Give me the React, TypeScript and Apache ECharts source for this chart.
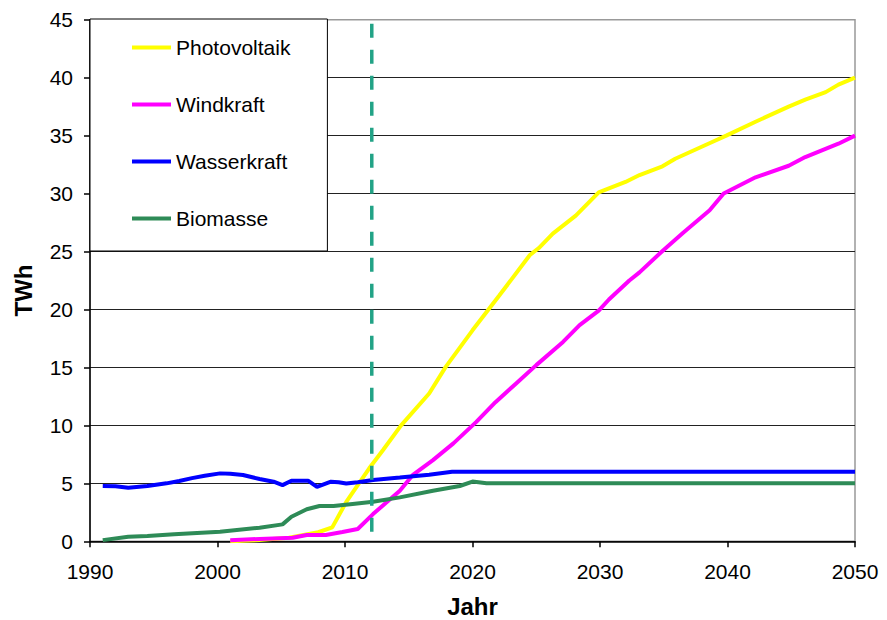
import React, { useEffect, useRef } from "react";
import * as echarts from "echarts";

const seriesNames = ["Photovoltaik", "Windkraft", "Wasserkraft", "Biomasse"];
const seriesColors = ["#ffff00", "#ff00ff", "#0000ff", "#2e8b57"];

const pvYears = [2001, 2003, 2005.6, 2007.9, 2009, 2010.1, 2011.9, 2013, 2014.4, 2016.6, 2017.9, 2020, 2022.1, 2024.5, 2025.2, 2026.3, 2028.1, 2029.9, 2032, 2033.1, 2034.9, 2035.9, 2038.8, 2039.9, 2042.2, 2044.8, 2046.1, 2047.7, 2048.7, 2050];
const pvValues = [0.0, 0.1, 0.3, 0.78, 1.2, 3.4, 6.3, 7.9, 10.0, 12.75, 15.05, 18.2, 21.2, 24.7, 25.3, 26.55, 28.1, 30.1, 31.0, 31.6, 32.35, 33.0, 34.45, 35.0, 36.2, 37.5, 38.1, 38.75, 39.4, 40.0];

const windYears = [2001, 2003.3, 2005.9, 2007, 2008.5, 2009.8, 2011, 2012.2, 2014.3, 2015.3, 2016.9, 2018.5, 2020.3, 2021.8, 2023.4, 2025, 2027.1, 2028.4, 2029.9, 2030.7, 2032.3, 2033.1, 2034.9, 2036.5, 2038.6, 2039.7, 2042.2, 2044.8, 2046.1, 2048.7, 2050];
const windValues = [0.1, 0.2, 0.3, 0.55, 0.55, 0.8, 1.06, 2.35, 4.36, 5.7, 7.0, 8.45, 10.3, 12.0, 13.6, 15.2, 17.2, 18.65, 19.9, 20.86, 22.5, 23.2, 25.05, 26.6, 28.56, 30.0, 31.4, 32.4, 33.15, 34.3, 35.0];

const hydroYears = [1991, 1992, 1993, 1994.5, 1996, 1997, 1998, 1999, 2000.2, 2001, 2002, 2003.3, 2004.4, 2005.1, 2005.8, 2007.1, 2007.8, 2008.9, 2009.5, 2010.1, 2011, 2012.2, 2014.3, 2016.6, 2018.4, 2030, 2040, 2050];
const hydroValues = [4.77, 4.75, 4.62, 4.77, 5.0, 5.2, 5.45, 5.65, 5.86, 5.82, 5.72, 5.37, 5.14, 4.85, 5.23, 5.23, 4.7, 5.14, 5.1, 4.98, 5.1, 5.28, 5.5, 5.75, 6.0, 6.0, 6.0, 6.0];

const bioYears = [1991, 1993, 1994.5, 1996.6, 2000.2, 2003.3, 2005.1, 2005.8, 2007, 2008, 2009.1, 2010.6, 2012.2, 2014.3, 2016.9, 2019, 2020, 2021.1, 2030, 2040, 2050];
const bioValues = [0.1, 0.4, 0.45, 0.6, 0.83, 1.17, 1.46, 2.12, 2.76, 3.04, 3.04, 3.22, 3.41, 3.79, 4.36, 4.77, 5.15, 5.0, 5.0, 5.0, 5.0];

const markerYear = 2012.1;
const markerRange = [45, 0];

const xTicks = { min: 1990, max: 2050, interval: 10 };
const yTicks = { min: 0, max: 45, interval: 5 };

const pairs = (xs: number[], ys: number[]) => xs.map((x, i) => [x, ys[i]]);

export default function App() {
  const ref = useRef<HTMLDivElement>(null);
  useEffect(() => {
    if (!ref.current) return;
    const chart = echarts.init(ref.current, null, { renderer: "svg" });
    const font = "'Liberation Sans', Arial, sans-serif";
    const dataSets = [
      pairs(pvYears, pvValues),
      pairs(windYears, windValues),
      pairs(hydroYears, hydroValues),
      pairs(bioYears, bioValues),
    ];
    const splitColors = ["#222", "#222", "#222", "#222", "#222", "#222", "#222", "#222", "#222", "#999"];
    chart.setOption({
      animation: false,
      backgroundColor: "#fff",
      grid: {
        left: 90,
        right: 32,
        top: 19.7,
        bottom: 78.7,
        show: true,
        borderColor: "#999",
        borderWidth: 1.5,
        backgroundColor: "transparent",
        outerBoundsMode: "none",
        containLabel: false,
      },
      legend: {
        data: seriesNames,
        orient: "vertical",
        left: 90,
        top: 19,
        padding: [18, 37, 22, 42],
        itemGap: 36,
        itemWidth: 39,
        itemHeight: 4,
        icon: "rect",
        backgroundColor: "#fff",
        borderColor: "#000",
        borderWidth: 1,
        textStyle: { fontSize: 21, fontFamily: font, color: "#000", lineHeight: 20 },
      },
      xAxis: {
        type: "value",
        min: xTicks.min,
        max: xTicks.max,
        interval: xTicks.interval,
        name: "Jahr",
        nameLocation: "middle",
        nameGap: 53,
        nameTextStyle: { fontSize: 24, fontWeight: "bold", fontFamily: font, color: "#000" },
        axisLine: { lineStyle: { color: "#000", width: 1.5 } },
        axisTick: { show: true, length: 6, lineStyle: { color: "#000", width: 1.5 } },
        axisLabel: { fontSize: 21, fontFamily: font, color: "#000", margin: 20, formatter: (v: number) => String(v) },
        splitLine: { show: false },
      },
      yAxis: {
        type: "value",
        min: yTicks.min,
        max: yTicks.max,
        interval: yTicks.interval,
        name: "TWh",
        nameLocation: "middle",
        nameGap: 55,
        nameTextStyle: { fontSize: 24, fontWeight: "bold", fontFamily: font, color: "#000", padding: [0, 20, 0, 0] },
        axisLine: { show: true, lineStyle: { color: "#000", width: 1.5 } },
        axisTick: { show: true, length: 6, lineStyle: { color: "#000", width: 1.5 } },
        axisLabel: { fontSize: 21, fontFamily: font, color: "#000", margin: 17 },
        splitLine: { show: true, lineStyle: { color: splitColors, width: 1.2 } },
      },
      series: [
        ...seriesNames.map((name, i) => ({
          name,
          type: "line",
          data: dataSets[i],
          showSymbol: false,
          symbol: "none",
          color: seriesColors[i],
          lineStyle: { color: seriesColors[i], width: 4 },
          z: 3 + i,
        })),
        {
          name: "marker",
          type: "line",
          data: markerRange.map((v) => [markerYear, v]),
          showSymbol: false,
          symbol: "none",
          lineStyle: { color: "#22a386", width: 3.5, type: [14, 12], dashOffset: 22 },
          z: 10,
          silent: true,
        },
      ],
    });
    return () => chart.dispose();
  }, []);
  return <div ref={ref} style={{ width: 887, height: 620, position: "absolute", left: 0, top: 0 }} />;
}
